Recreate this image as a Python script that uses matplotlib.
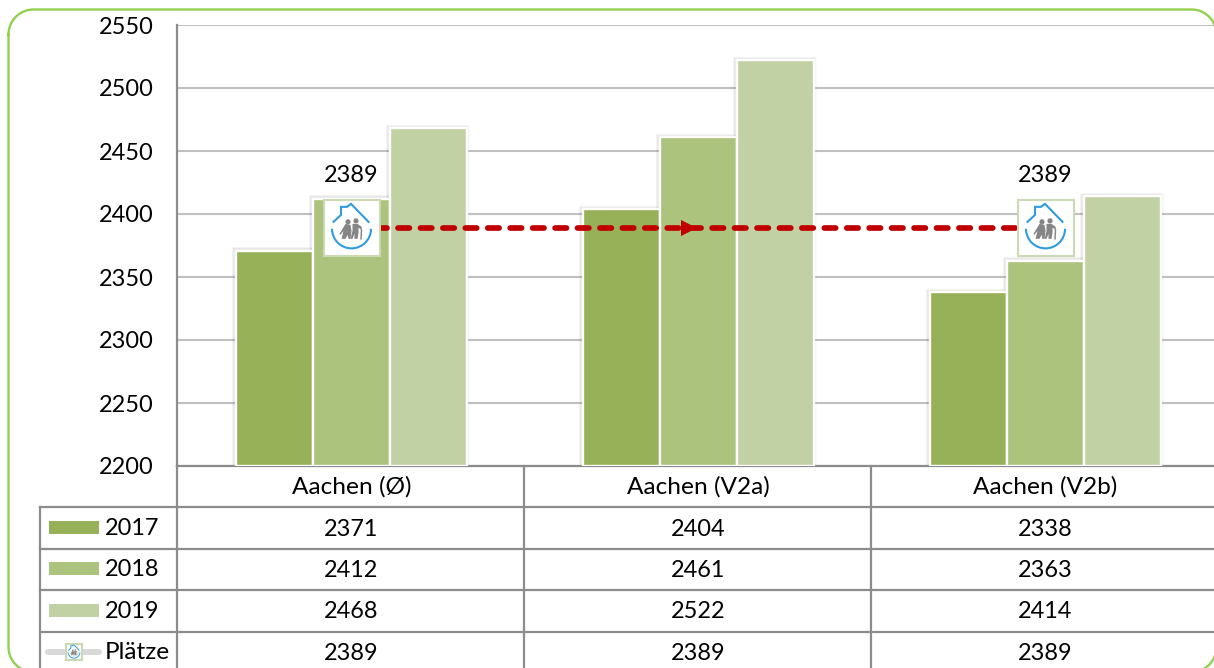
import matplotlib
matplotlib.use("Agg")
import matplotlib.pyplot as plt
import numpy as np
from matplotlib.patches import Rectangle, Polygon, Circle, Arc
from matplotlib.lines import Line2D
from matplotlib.transforms import Affine2D

plt.rcParams['font.family'] = ['Lato', 'DejaVu Sans']

categories = ["Aachen (Ø)", "Aachen (V2a)", "Aachen (V2b)"]
years = ["2017", "2018", "2019"]
v2017 = [2371, 2404, 2338]
v2018 = [2412, 2461, 2363]
v2019 = [2468, 2522, 2414]
plaetze = [2389, 2389, 2389]
yticks = [2200, 2250, 2300, 2350, 2400, 2450, 2500, 2550]
series_colors = ["#97B158", "#ABC37D", "#C1D1A3"]
GRID = "#C0C0C0"
TABLE = "#8C8C8C"
RED = "#C00000"
FS = 16.9
FS_WORD = 17.6

W, H = 1214, 668
fig = plt.figure(figsize=(W / 100, H / 100), dpi=100, facecolor="white")
ax = fig.add_axes([177 / W, (H - 466) / H, (1218 - 177) / W, 441 / H])
ax.set_xlim(-0.5029, 2.4971)
ax.set_ylim(2200, 2550)
ax.set_yticks(yticks)
ax.set_xticks(range(3))
ax.set_xticklabels(categories, fontsize=FS_WORD)
ax.tick_params(axis="y", length=0, pad=17, labelsize=FS)
ax.tick_params(axis="x", length=0, pad=7.2)
ax.yaxis.grid(True, color=GRID, lw=1.5, zorder=0)
ax.set_axisbelow(True)
for s in ("top", "right"):
    ax.spines[s].set_visible(False)
for s in ("left", "bottom"):
    ax.spines[s].set_color(TABLE)
    ax.spines[s].set_linewidth(1.6)

x = np.arange(3)
bw = 1 / 4.5
series = [v2017, v2018, v2019]
shadow_shift = Affine2D().translate(-0.8, 0.4)
for i, vals in enumerate(series):
    # soft shadow behind the bars
    for lw, a in ((5.0, 0.02), (4.0, 0.03), (3.0, 0.04)):
        ax.bar(x + (i - 1) * bw, np.array(vals) - 2200, bw, bottom=2200, fill=False,
               edgecolor=(0, 0, 0, a), lw=lw, zorder=2,
               transform=ax.transData + shadow_shift)
for i, (vals, col) in enumerate(zip(series, series_colors)):
    ax.bar(x + (i - 1) * bw, np.array(vals) - 2200, bw, bottom=2200, color=col,
           edgecolor="white", lw=1.7, zorder=3)

ax.plot(x, plaetze, color=RED, lw=4.1, ls=(3.74, (2.0, 1.94)), dash_capstyle="round", zorder=4)
ax.plot([x[1]], [plaetze[1]], marker=">", ms=12.2, color=RED, mec=RED, mew=0, zorder=5, ls="none",
        transform=ax.transData + Affine2D().translate(-9.5, 0))

# overlay in pixel coordinates for frame, table and icons
ov = fig.add_axes([0, 0, 1, 1], facecolor="none")
ov.set_xlim(0, W)
ov.set_ylim(H, 0)
ov.axis("off")


def rounded_outline(x0, y0, x1, y1, r):
    pts = []
    for cx, cy, a0 in ((x0 + r, y0 + r, 180), (x1 - r, y0 + r, 270), (x1 - r, y1 - r, 0), (x0 + r, y1 - r, 90)):
        a = np.radians(np.linspace(a0, a0 + 90, 24))
        pts.append(np.column_stack([cx + r * np.cos(a), cy + r * np.sin(a)]))
    pts = np.vstack(pts + [pts[0][:1]])
    return pts[:, 0], pts[:, 1]


ov.add_line(Line2D(*rounded_outline(8.5, 9.5, 1216.5, 672, 25), color="#92D050", lw=1.7, zorder=1))


def to_px(xv, yv):
    return ov.transData.inverted().transform(ax.transData.transform((xv, yv)))


def icon(cx, cy, scale=1.0):
    t = Affine2D().scale(scale).translate(cx, cy) + ov.transData
    ov.add_patch(Rectangle((-28, -28), 56, 56, fc="white", ec="#CBD9B4", lw=1.5, transform=t, zorder=10))
    blue = "#2F9BE0"
    grey = "#858585"
    lw = 1.5 * scale if scale >= 1 else 0.7
    roof = ([-18, -10.5, -10.5, -4.5, -0.5, 17], [-6, -13, -21, -21, -24, -6])
    ov.add_line(Line2D(*roof, color=blue, lw=lw, transform=t, zorder=11, solid_joinstyle="miter"))
    ov.add_patch(Arc((0, 1), 39, 39, theta1=0, theta2=180, ec=blue, lw=lw, transform=t, zorder=11))
    ov.add_patch(Circle((-3.5, -6), 2.6, fc=grey, ec="none", transform=t, zorder=12))
    ov.add_patch(Circle((4.5, -7), 2.6, fc=grey, ec="none", transform=t, zorder=12))
    ov.add_patch(Polygon([(-6, -4), (-1, -3), (0, 3), (-1, 11), (-3, 11), (-4, 7), (-6, 11), (-10, 11), (-8, 3),
                          (-11, 7), (-12, 6)],
                         fc=grey, ec="none", transform=t, zorder=12))
    ov.add_patch(Polygon([(1, -4), (6, -4), (10, -1), (9, 1), (7, 0), (7, 5), (6, 11), (3, 11), (3, 6), (1, 11),
                          (-1, 11), (1, 3)],
                         fc=grey, ec="none", transform=t, zorder=12))
    ov.add_line(Line2D([9, 10, 9.5], [-1, 2, 11], color=grey, lw=lw * 0.7, transform=t, zorder=12))


for i in (0, 2):
    px, py = to_px(x[i], plaetze[i])
    icon(px, py)
    ov.text(px, 175.5, str(plaetze[i]), ha="center", va="center", fontsize=FS, zorder=12)

# table
row_lines = [507, 548.5, 590, 632]
for yy in row_lines:
    ov.add_line(Line2D([40, W], [yy, yy], color=TABLE, lw=1.6, zorder=5))
ov.add_line(Line2D([40, 40], [507, H], color=TABLE, lw=1.6, zorder=5))
ov.add_line(Line2D([177, 177], [466, H], color=TABLE, lw=1.6, zorder=5))
for frac in (1 / 3, 2 / 3):
    bx = ov.transData.inverted().transform(ax.transAxes.transform((frac, 0)))[0]
    ov.add_line(Line2D([bx, bx], [466, H], color=TABLE, lw=1.6, zorder=5))

row_centers = [529, 570.5, 612, 653.5]
rows = [v2017, v2018, v2019, plaetze]
for yy, vals in zip(row_centers, rows):
    for i, v in enumerate(vals):
        ov.text(to_px(x[i], 2200)[0], yy, str(v), ha="center", va="center", fontsize=FS, zorder=6)
for yy, name, col in zip(row_centers, years, series_colors):
    ov.add_patch(Rectangle((49, yy - 8.5), 50, 13, fc=col, ec="none", zorder=6))
    ov.text(105, yy - 0.5, name, ha="left", va="center", fontsize=FS, zorder=6)

ov.add_line(Line2D([48, 99], [651.5, 651.5], color="#D9D9D9", lw=4.3, solid_capstyle="round", zorder=6))
icon(74, 652, 0.3)
ov.text(105, 652.5, "Plätze", ha="left", va="center", fontsize=FS_WORD, zorder=6)

fig.savefig("out.png", dpi=100)
